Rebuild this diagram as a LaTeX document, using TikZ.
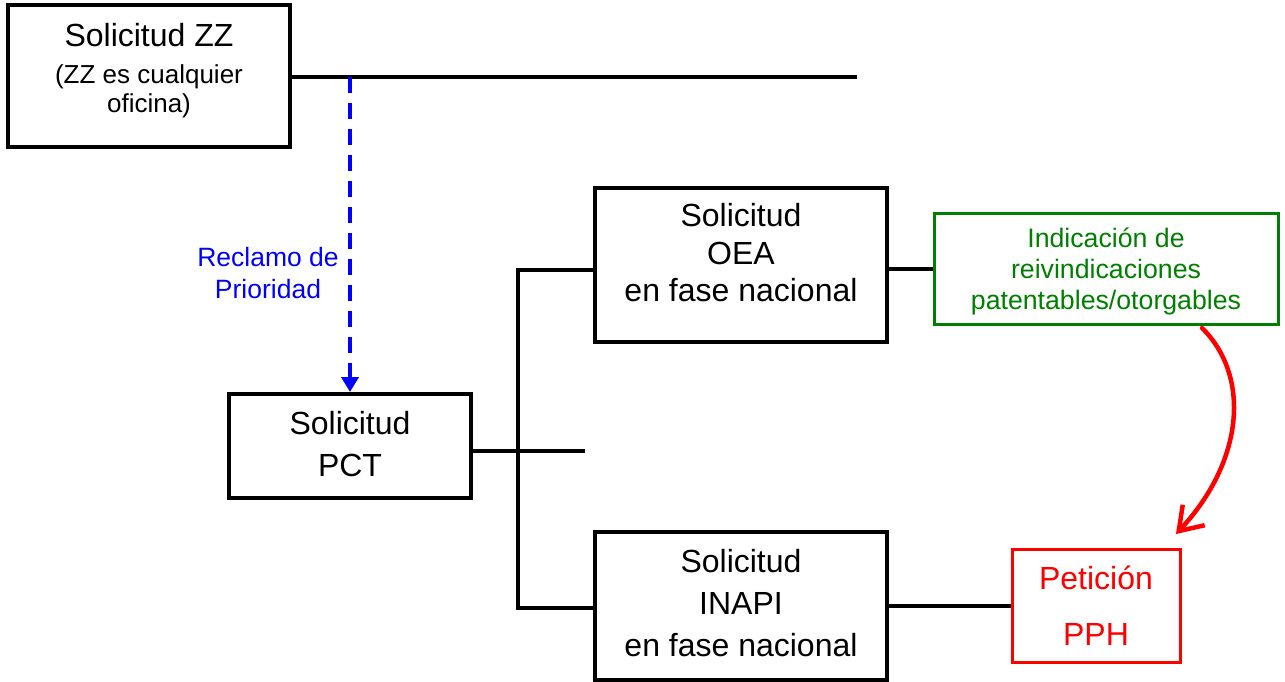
\documentclass[tikz,border=0pt]{standalone}
\usepackage{fontspec}
\setmainfont{Liberation Sans}
\usetikzlibrary{arrows.meta}
\definecolor{dkgreen}{RGB}{0,128,0}
\begin{document}
\begin{tikzpicture}[x=1pt,y=-1pt,
  box/.style={draw=black,line width=4pt,minimum width=#1,inner sep=0pt},
  conn/.style={draw=black,line width=4pt},
  big/.style={font=\fontsize{32}{37.5}\selectfont,align=center,inner sep=0pt},
]
\useasboundingbox (0,0) rectangle (1285,682);
% boxes
\node[box=282pt,minimum height=142pt] (zz) at (149,76) {};
\node[box=242pt,minimum height=104pt] (pct) at (350,446) {};
\node[box=292pt,minimum height=154pt] (oea) at (741,265) {};
\node[box=292pt,minimum height=148pt] (inapi) at (741,606) {};
\node[draw=dkgreen,line width=3pt,minimum width=344pt,minimum height=111pt,inner sep=0pt] (ind) at (1106,268.5) {};
\node[draw=red,line width=3pt,minimum width=168pt,minimum height=113pt,inner sep=0pt] (pph) at (1096,605.5) {};
% texts
\node[font=\fontsize{32}{38}\selectfont,inner sep=0pt] (zzt1) at (149,35) {Solicitud ZZ};
\node[font=\fontsize{26}{29}\selectfont,align=center,inner sep=0pt] (zzt2) at (149,91) {(ZZ es cualquier\\oficina)};
\node[big,font=\fontsize{32}{42}\selectfont] (pctt) at (350,444) {Solicitud\\PCT};
\node[big] (oeat) at (741,253) {Solicitud\\OEA\\en fase nacional};
\node[big,font=\fontsize{32}{42}\selectfont] (inapit) at (741,603) {Solicitud\\INAPI\\en fase nacional};
\node[font=\fontsize{26.5}{32}\selectfont,align=center,inner sep=0pt,text=blue] (recl) at (268,273) {Reclamo de\\Prioridad};
\node[font=\fontsize{26.7}{31}\selectfont,align=center,inner sep=0pt,text=dkgreen] (indt) at (1106,271) {Indicación de\\reivindicaciones\\patentables/otorgables};
\node[font=\fontsize{32}{56}\selectfont,align=center,inner sep=0pt,text=red] (ppht) at (1096,606) {Petición\\PPH};
% connectors
\coordinate (zzend) at (857,77);
\coordinate (zzx) at (350,77);
\coordinate (pctend) at (585,451);
\coordinate (j1) at (518,270);
\coordinate (j2) at (518,608);
\draw[conn] (zz.east |- zzend) -- (zzend);
\draw[conn] (pct.east |- pctend) -- (pctend);
\draw[conn] (j1 -| oea.west) -- (j1) -- (j2) -- (j2 -| inapi.west);
\draw[conn] (oea.east |- ind.west) -- (ind.west);
\draw[conn] (inapi.east |- pph.west) -- (pph.west);
\draw[blue,line width=4.5pt,dash pattern=on 16pt off 10pt,-{Triangle[length=15pt,width=17pt]}] (zzx) -- (pct.north -| zzx);
\coordinate (cstart) at (1202,328);
\coordinate (cend) at (1176,534);
\draw[red,line width=4.5pt,line cap=round,-{Straight Barb[length=22pt,width=30pt]}] (cstart) .. controls (1250,375) and (1245,460) .. (cend);
\end{tikzpicture}
\end{document}
